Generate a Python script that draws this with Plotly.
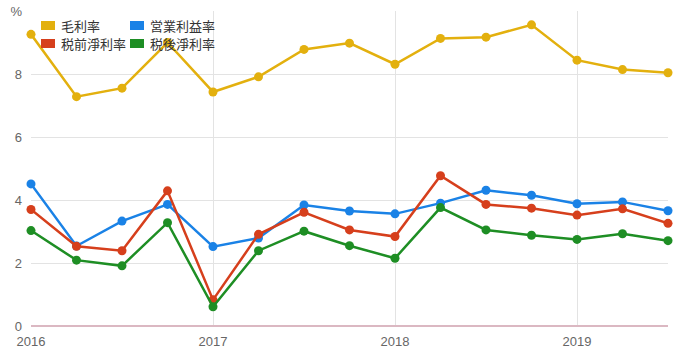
import plotly.graph_objects as go

quarters = [2016.0, 2016.25, 2016.5, 2016.75, 2017.0, 2017.25, 2017.5, 2017.75,
            2018.0, 2018.25, 2018.5, 2018.75, 2019.0, 2019.25, 2019.5]
gross_margin = [9.26, 7.28, 7.55, 9.0, 7.43, 7.91, 8.78, 8.98, 8.31, 9.13, 9.17, 9.56, 8.44, 8.14, 8.04]
operating_margin = [4.51, 2.54, 3.33, 3.86, 2.52, 2.79, 3.84, 3.65, 3.56, 3.90, 4.31, 4.15, 3.88, 3.94, 3.66]
pretax_margin = [3.70, 2.53, 2.39, 4.29, 0.83, 2.91, 3.61, 3.05, 2.84, 4.77, 3.86, 3.74, 3.52, 3.72, 3.26]
aftertax_margin = [3.03, 2.09, 1.91, 3.28, 0.61, 2.39, 3.01, 2.55, 2.15, 3.76, 3.05, 2.88, 2.75, 2.93, 2.71]

names = ["毛利率", "営業利益率", "税前淨利率", "税後淨利率"]
colors = ["#E3B00E", "#1A82E6", "#D63F1C", "#1E8E24"]
series = [gross_margin, operating_margin, pretax_margin, aftertax_margin]

year_ticks = [2016, 2017, 2018, 2019]
year_labels = ["2016", "2017", "2018", "2019"]
y_ticks = [0, 2, 4, 6, 8, 10]
y_labels = ["0", "2", "4", "6", "8", "%"]

fig = go.Figure()
for name, color, vals in zip(names, colors, series):
    fig.add_trace(go.Scatter(
        x=quarters, y=vals, name=name, mode="lines+markers",
        line=dict(color=color, width=2.5),
        marker=dict(color=color, size=9),
        cliponaxis=False, showlegend=False,
    ))

W, H = 685, 353
L, R, T, B = 31, 17, 11, 27
pw, ph = W - L - R, H - T - B

def px(x):
    return (x - L) / pw

def py(y):
    return (H - B - y) / ph

# legend (2 columns x 2 rows), drawn inside the plot area
cols_x = [41, 130]
rows_y = [25.5, 43.5]
shapes = []
annotations = []
for i, (name, color) in enumerate(zip(names, colors)):
    cx = cols_x[i % 2]
    cy = rows_y[i // 2]
    shapes.append(dict(type="rect", xref="paper", yref="paper",
                       x0=px(cx), x1=px(cx + 14), y0=py(cy + 4.5), y1=py(cy - 4.5),
                       fillcolor=color, line=dict(width=0)))
    annotations.append(dict(xref="paper", yref="paper", x=px(cx + 18), y=py(cy),
                            text=name, showarrow=False, xanchor="left", yanchor="middle",
                            font=dict(family="Noto Sans CJK JP", size=13, color="#333333")))

fig.update_layout(
    width=W, height=H,
    margin=dict(l=L, r=R, t=T, b=B, pad=0, autoexpand=False),
    paper_bgcolor="white", plot_bgcolor="white",
    font=dict(family="Liberation Sans, Arial", size=13, color="#666666"),
    shapes=shapes, annotations=annotations,
    xaxis=dict(range=[2016, 2019.5], tickvals=year_ticks, ticktext=year_labels,
               showgrid=True, gridcolor="#e3e3e3", gridwidth=1, zeroline=False,
               showline=False, ticks="", automargin=False, ticklabelstandoff=6,
               tickfont=dict(size=13, color="#666666")),
    yaxis=dict(range=[0, 10], tickvals=y_ticks, ticktext=y_labels,
               showgrid=True, gridcolor="#e3e3e3", gridwidth=1,
               zeroline=True, zerolinecolor="#dbb8c2", zerolinewidth=2,
               showline=False, ticks="", ticklabelstandoff=8, automargin=False,
               tickfont=dict(size=13, color="#666666")),
)

fig.write_html("out.html")
